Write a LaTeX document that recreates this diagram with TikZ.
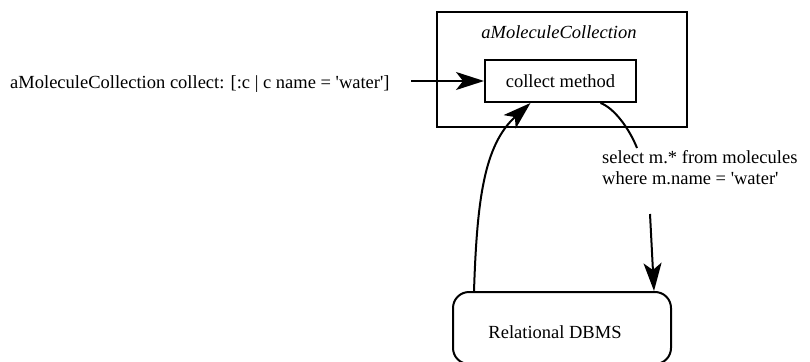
\documentclass[tikz,border=0pt]{standalone}
\usepackage{fontspec}
\setmainfont{Liberation Serif}
\usetikzlibrary{arrows.meta}
\begin{document}
\begin{tikzpicture}[x=1pt,y=-1pt,
  txt/.style={font=\fontsize{18.5}{21}\selectfont, inner sep=0pt},
  ittxt/.style={font=\fontsize{18.5}{21}\selectfont\itshape, inner sep=0pt},
  box/.style={draw, line width=2pt, inner sep=0pt, font=\fontsize{18.5}{21}\selectfont},
  conn/.style={line width=2pt},
  arr/.style={conn, -{Stealth[length=28pt,width=18pt,inset=7pt]}}]
\clip (0,0) rectangle (810,361);
\useasboundingbox (0,0) rectangle (810,361);
% outer object box
\node[box, minimum width=250pt, minimum height=115pt] (outer) at (562,69.5) {};
\node[ittxt, anchor=base] (title) at (559,38) {aMoleculeCollection};
% inner method box
\node[box, minimum width=151pt, minimum height=42pt] (inner) at (560.5,81) {collect method};
% message text
\node[txt, anchor=base west] (call) at (10,88) {aMoleculeCollection collect: [:c | c name = \textquotesingle water\textquotesingle]};
% DBMS box
\node[box, rounded corners=16pt, minimum width=218pt, minimum height=72pt] (db) at (562,328) {};
\node[txt] (dblbl) at (555,332) {Relational DBMS};
% SQL text
\node[txt, anchor=north west, align=left] (sql) at (602,150) {select m.* from molecules\\where m.name = \textquotesingle water\textquotesingle};
% connectors
\coordinate (h0) at (411,81);
\draw[arr] (h0) -- (inner.west);
\coordinate (r0) at ([xshift=40pt]inner.south);
\coordinate (r1) at (637,148);
\draw[conn] (r0) .. controls (614,108) and (629,128) .. (r1);
\coordinate (d0) at (650,214);
\draw[arr] (d0) -- ([xshift=92pt]db.north);
\draw[arr] ([xshift=-88pt]db.north) .. controls (477,200) and (484,145) .. ([xshift=-30pt]inner.south);
\end{tikzpicture}
\end{document}
